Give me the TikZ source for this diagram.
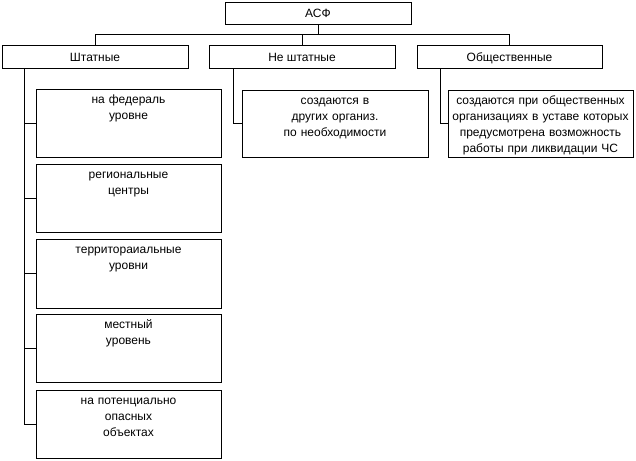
\documentclass[tikz,border=0pt]{standalone}
\usepackage{fontspec}
\setmainfont{Liberation Sans}

\begin{document}
\begin{tikzpicture}[x=1pt,y=-1pt,line width=1pt,
  every node/.style={font=\fontsize{12}{16}\selectfont},
  head/.style={draw,line width=1pt,minimum width=186,minimum height=22,inner sep=0,
    text height=8.6,text depth=0.6},
  sub/.style={draw,line width=1pt,minimum width=185,minimum height=68,inner sep=0},
  boxtext/.style={anchor=north,yshift=-2.8,align=center,text width=183,inner sep=0,
    execute at begin node=\strut}]
\useasboundingbox (0,0) rectangle (636,460);

\node[head] (asf) at (318,14) {АСФ};
\node[head,minimum height=23] (shtat) at (95,57) {Штатные};
\node[head,minimum height=23] (nestat) at (302,57) {Не штатные};
\node[head,minimum height=23,minimum width=185] (obsh) at (509.5,57) {Общественные};

\coordinate (bus) at (0,35);
\draw (asf.south) -- (asf.south |- bus);
\draw (shtat.north) |- (obsh.north |- bus) -- (obsh.north);
\draw (nestat.north) -- (nestat.north |- bus);

% штатные
\node[sub,label={[boxtext]north:на федераль\\уровне}] (fed) at (128.5,123) {};
\node[sub,label={[boxtext]north:региональные\\центры}] (reg) at (128.5,198.25) {};
\node[sub,minimum height=69,label={[boxtext]north:территораиальные\\уровни}] (ter) at (128.5,273.5) {};
\node[sub,label={[boxtext]north:местный\\уровень}] (mest) at (128.5,348.75) {};
\node[sub,label={[boxtext]north:на потенциально\\опасных\\объектах}] (obj) at (128.5,424) {};

\coordinate (tr) at (24,0);
\draw (shtat.south -| tr) |- (obj.west);
\foreach \n in {fed,reg,ter,mest}
  \draw (tr |- \n.west) -- (\n.west);

% не штатные
\node[sub,minimum width=186,minimum height=67,
  label={[boxtext]north:создаются в\\других организ.\\по необходимости}] (sozd) at (335,123.5) {};
\draw (shtat.south -| 233,0) |- (sozd.west);

% общественные
\node[sub,minimum height=67,
  label={[boxtext]north:создаются при общественных\\организациях в уставе которых\\предусмотрена возможность\\работы при ликвидации ЧС}] (pri) at (540.5,123.5) {};
\draw (shtat.south -| 440,0) |- (pri.west);
\end{tikzpicture}
\end{document}
